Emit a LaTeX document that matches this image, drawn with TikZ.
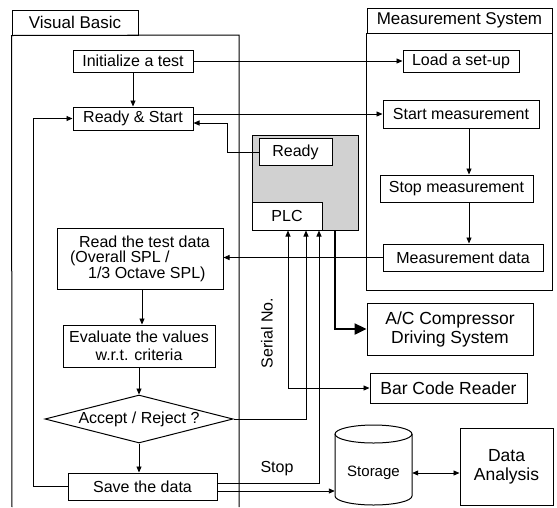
\documentclass[tikz,border=0pt]{standalone}
\usepackage{fontspec}
\setmainfont{Liberation Sans}
\usetikzlibrary{shapes.geometric,arrows.meta,calc}
\begin{document}
\begin{tikzpicture}[x=1pt,y=-1pt,
  every node/.style={font=\fontsize{16}{16}\selectfont},
  box/.style={draw, line width=1pt, inner sep=0pt, align=center},
  arr/.style={line width=0.9pt, -{Triangle[length=6pt,width=5pt]}},
  dbl/.style={line width=0.9pt, {Triangle[length=6pt,width=5pt]}-{Triangle[length=6pt,width=5pt]}},
  frame/.style={line width=1pt},
  big/.style={font=\fontsize{17.5}{19}\selectfont},
]
\useasboundingbox (0,0) rectangle (557,507);

% frames
\node[box, minimum width=126pt, minimum height=25pt, font=\fontsize{17}{17}\selectfont] (vbtab) at (75,22.5) {Visual Basic};
\draw[frame] (12,507) -- (vbtab.south west) -- (239,35) -- (239,507);
\node[box, minimum width=185pt, minimum height=25pt, font=\fontsize{17}{17}\selectfont] (mstab) at (459.5,20.5) {Measurement System};
\draw[frame] (mstab.south west) rectangle (552,290);

% PLC block
\node[draw, line width=1pt, fill=black!18, minimum width=106pt, minimum height=95pt, inner sep=0pt] (plcbox) at (305,182.5) {};
\node[box, fill=white, minimum width=73pt, minimum height=27pt] (ready) at (295.5,152) {Ready};
\node[box, fill=white, minimum width=70pt, minimum height=28pt] (plc) at (287,216) {PLC};

% Visual Basic flow
\node[box, minimum width=120pt, minimum height=22pt] (init) at (133,61) {Initialize a test};
\node[box, minimum width=120pt, minimum height=23pt] (readystart) at (133,118.5) {Ready \& Start};
\node[box, minimum width=166pt, minimum height=61pt, align=left, font=\fontsize{16}{15.5}\selectfont] (readdata) at (140,258.5)
  {\hspace*{9pt}Read the test data\\(Overall SPL /\\\hspace*{18pt}1/3 Octave SPL)};
\node[box, minimum width=152pt, minimum height=42pt, font=\fontsize{16}{18}\selectfont] (eval) at (139,346) {Evaluate the values\\w.r.t. criteria};
\node[draw, line width=1pt, shape=diamond, aspect=3.9, inner sep=0pt, minimum width=188pt, minimum height=48pt] (decision) at (139,419) {Accept / Reject ?};
\node[box, minimum width=149pt, minimum height=27pt] (save) at (142.5,486.5) {Save the data};

% Measurement system
\node[box, minimum width=116pt, minimum height=22pt] (load) at (461,61) {Load a set-up};
\node[box, minimum width=156pt, minimum height=28pt] (startm) at (461,114) {Start measurement};
\node[box, minimum width=153pt, minimum height=27pt] (stopm) at (456.5,188.5) {Stop measurement};
\node[box, minimum width=160pt, minimum height=27pt] (mdata) at (463,257.5) {Measurement data};

% right-bottom
\node[box, big, minimum width=166pt, minimum height=52pt] (acbox) at (450,329) {A/C Compressor\\Driving System};
\node[box, big, minimum width=157pt, minimum height=30pt] (barcode) at (448.5,388) {Bar Code Reader};
\node[box, big, minimum width=93pt, minimum height=77pt] (analysis) at (506.5,466.5) {Data\\Analysis};
\node[inner sep=0pt, minimum width=77pt, minimum height=64pt, font=\fontsize{15}{15}\selectfont] (storage) at (373.5,473) {Storage};
\draw[frame] (335,434) -- (335,496) arc[start angle=180, end angle=360, x radius=38.5pt, y radius=9pt] -- (412,434);
\draw[frame] (373.5,434) ellipse [x radius=38.5pt, y radius=9pt];

\node[rotate=90] (serial) at (267,333) {Serial No.};
\node (stoplbl) at (277,469) {Stop};

% helper coordinates
\coordinate (mx) at (469,0);
\coordinate (rk) at (227,123);
\coordinate (lp) at (33,0);
\coordinate (rx) at (142,0);
\coordinate (c1) at (288,0);
\coordinate (c2) at (306,0);
\coordinate (c3) at (319,0);
\coordinate (c4) at (335,0);
\coordinate (sy) at (0,483);
\coordinate (sy2) at (0,491);
\coordinate (sy3) at (0,473);

% connectors
\draw[arr] (init) -- (readystart);
\draw[arr] (init) -- (load);
\draw[arr] (readystart.east |- startm.west) -- (startm.west);
\draw[arr] (startm.south -| mx) -- (stopm.north -| mx);
\draw[arr] (stopm.south -| mx) -- (mdata.north -| mx);
\draw[arr] (mdata.west) -- (mdata.west -| readdata.east);
\draw[arr] (ready.west) -| (rk) -- (rk -| readystart.east);
\draw[arr] (save.west) -- (save.west -| lp) |- (readystart.west);
\draw[arr] (readdata.south -| rx) -- (eval.north -| rx);
\draw[arr] (eval.south -| decision.north) -- (decision.north);
\draw[arr] (decision.south) -- (decision.south |- save.north);
\draw[arr] (decision.east) -- (decision.east -| c2) -- (plc.south -| c2);
\draw[arr] (save.east |- sy) -- (sy -| c3) -- (plc.south -| c3);
\draw[arr] (save.east |- sy2) -- (storage.west |- sy2);
\draw[dbl] (plc.south -| c1) |- (barcode.west);
\draw[line width=2.4pt, -{Triangle[length=12pt,width=11pt]}] (plcbox.south -| c4) |- (acbox.west);
\draw[dbl] (storage.east |- sy3) -- (analysis.west |- sy3);
\end{tikzpicture}
\end{document}
